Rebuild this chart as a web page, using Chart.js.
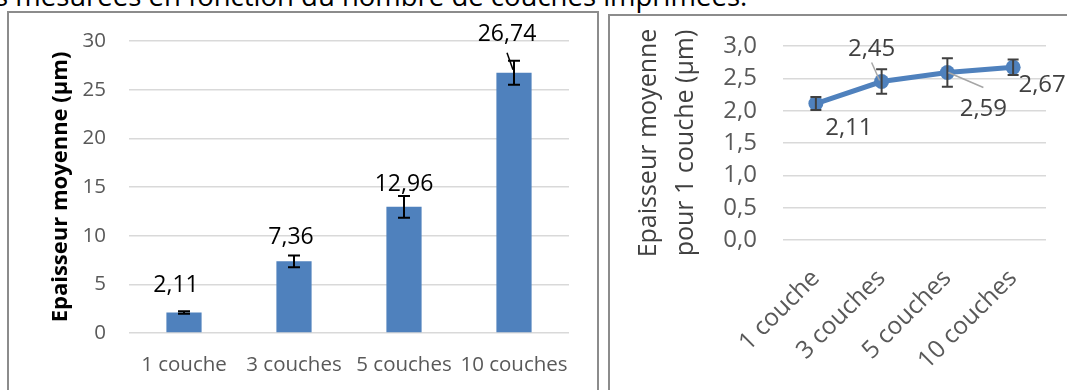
<!DOCTYPE html>
<html><head><meta charset="utf-8">
<script src="https://cdn.jsdelivr.net/npm/chart.js@4/dist/chart.umd.min.js"></script>
<style>
html,body{margin:0;padding:0;background:#fff;width:1067px;height:390px;overflow:hidden;}
#caption{position:absolute;left:-5px;top:-18px;font:27.5px/27.5px 'Open Sans';color:#000;white-space:nowrap;}
.frame{position:absolute;background:#fff;border:2px solid #8c8c8c;}
#f1{left:7px;top:11px;width:588px;height:400px;}
#f2{left:608px;top:14px;width:500px;height:400px;}
canvas{position:absolute;}
#c1{left:10px;top:14px;}
#c2{left:611px;top:17px;}
</style></head><body>
<div id="caption">s mesurées en fonction du nombre de couches imprimées.</div>
<div class="frame" id="f1"></div>
<div class="frame" id="f2"></div>
<canvas id="c1" width="587" height="376"></canvas>
<canvas id="c2" width="456" height="373"></canvas>
<script>
// ---- data ----
const categories = ['1 couche', '3 couches', '5 couches', '10 couches'];
const thickness = [2.11, 7.36, 12.96, 26.74];
const thicknessErr = [0.12, 0.6, 1.11, 1.23];
const perLayer = [2.11, 2.45, 2.59, 2.67];
const perLayerErr = [0.1, 0.19, 0.22, 0.12];
const leftTicks = [0, 5, 10, 15, 20, 25, 30];
const rightTicks = [0, 0.5, 1, 1.5, 2, 2.5, 3];

const fmt = (v, d) => v.toFixed(d).replace('.', ',');
const FONT = 'Open Sans';

const annot = {
  id: 'annot',
  afterDatasetsDraw(chart, args, o) {
    const ctx = chart.ctx, xs = chart.scales.x, ys = chart.scales.y;
    const data = chart.data.datasets[0].data;
    ctx.save();
    ctx.strokeStyle = o.errColor; ctx.lineWidth = o.errWidth; ctx.lineCap = 'butt';
    data.forEach((v, i) => {
      const px = xs.getPixelForValue(i), e = o.err[i];
      const y1 = ys.getPixelForValue(v + e), y2 = ys.getPixelForValue(v - e);
      ctx.beginPath();
      ctx.moveTo(px, y1); ctx.lineTo(px, y2);
      ctx.moveTo(px - o.cap, y1); ctx.lineTo(px + o.cap, y1);
      ctx.moveTo(px - o.cap, y2); ctx.lineTo(px + o.cap, y2);
      ctx.stroke();
    });
    ctx.font = o.font; ctx.fillStyle = o.labelColor;
    ctx.textAlign = 'center'; ctx.textBaseline = 'middle';
    data.forEach((v, i) => {
      const px = xs.getPixelForValue(i), py = ys.getPixelForValue(v);
      const off = o.offsets[i];
      ctx.fillText(fmt(v, 2), px + off[0], py + off[1]);
      const l = o.leaders[i];
      if (l) {
        ctx.strokeStyle = o.leaderColor; ctx.lineWidth = o.leaderWidth;
        ctx.beginPath(); ctx.moveTo(px + l[0], py + l[1]); ctx.lineTo(px + l[2], py + l[3]); ctx.stroke();
      }
    });
    ctx.restore();
  }
};

const fixY = w => s => { s.width = w; s.paddingTop = 0; s.paddingBottom = 0; };
const fixX = h => s => { s.height = h; s.paddingLeft = 0; s.paddingRight = 0; };

new Chart(document.getElementById('c1'), {
  type: 'bar',
  data: { labels: categories, datasets: [{ data: thickness, backgroundColor: '#4F81BD', borderWidth: 0, barPercentage: 0.32, categoryPercentage: 1 }] },
  options: {
    responsive: false, animation: false, devicePixelRatio: 1,
    layout: { padding: { top: 27, right: 28, left: 0, bottom: 0 } },
    plugins: {
      legend: { display: false }, tooltip: { enabled: false },
      annot: {
        err: thicknessErr, errColor: '#000', errWidth: 2, cap: 6,
        font: '23px "Open Sans"', labelColor: '#000',
        offsets: [[-8, -27], [-3, -24], [0, -22], [-7, -38]],
        leaders: [null, null, null, [-7, -20, -1, -3]],
        leaderColor: '#000', leaderWidth: 1.5
      }
    },
    scales: {
      x: {
        grid: { display: false, drawTicks: false }, border: { display: false },
        ticks: { font: { family: FONT, size: 20.5 }, color: '#595959', padding: 20, maxRotation: 0, minRotation: 0, autoSkip: false },
        afterFit: fixX(57)
      },
      y: {
        min: 0, max: 30,
        afterBuildTicks(s) { s.ticks = leftTicks.map(v => ({ value: v })); },
        grid: { color: '#d9d9d9', lineWidth: 1.5, drawTicks: false }, border: { display: false },
        ticks: { padding: 23, color: '#595959', font: { family: FONT, size: 20.5 }, autoSkip: false, callback: v => fmt(v, 0) },
        title: { display: true, text: 'Epaisseur moyenne (µm)', color: '#000', font: { family: FONT, size: 22, weight: 'bold' }, padding: { top: 38, bottom: 0 } },
        afterFit: fixY(119)
      }
    }
  },
  plugins: [annot]
});

new Chart(document.getElementById('c2'), {
  type: 'line',
  data: { labels: categories, datasets: [{ data: perLayer, borderColor: '#4F81BD', backgroundColor: '#4F81BD', borderWidth: 5, pointRadius: 7.5, pointBackgroundColor: '#4F81BD', pointBorderColor: '#4F81BD', pointBorderWidth: 0, tension: 0, clip: false }] },
  options: {
    responsive: false, animation: false, devicePixelRatio: 1,
    layout: { padding: { top: 29, right: 21, left: 0, bottom: 0 } },
    plugins: {
      legend: { display: false }, tooltip: { enabled: false },
      annot: {
        err: perLayerErr, errColor: '#404040', errWidth: 2, cap: 5.5,
        font: '24px "Open Sans"', labelColor: '#404040',
        offsets: [[33, 25], [-10, -32], [36, 37], [29, 18]],
        leaders: [null, [-10, -19, -2, -1], [1, 0, 36, 15], null],
        leaderColor: '#a6a6a6', leaderWidth: 1.5
      }
    },
    scales: {
      x: {
        offset: true,
        grid: { display: false, drawTicks: false }, border: { display: false },
        ticks: { font: { family: FONT, size: 24.5 }, color: '#595959', padding: 24, maxRotation: 45, minRotation: 45, autoSkip: false },
        afterFit: fixX(150)
      },
      y: {
        min: 0, max: 3,
        afterBuildTicks(s) { s.ticks = rightTicks.map(v => ({ value: v })); },
        grid: { color: '#d9d9d9', lineWidth: 1.5, drawTicks: false }, border: { display: false },
        ticks: { padding: 26, color: '#595959', font: { family: FONT, size: 24 }, autoSkip: false, callback: v => fmt(v, 1) },
        title: { display: true, text: ['Epaisseur moyenne', 'pour 1 couche (µm)'], color: '#404040', font: { family: FONT, size: 25, lineHeight: 1.5 }, padding: { top: 19, bottom: 0 } },
        afterFit: fixY(172)
      }
    }
  },
  plugins: [annot]
});
</script>
</body></html>
